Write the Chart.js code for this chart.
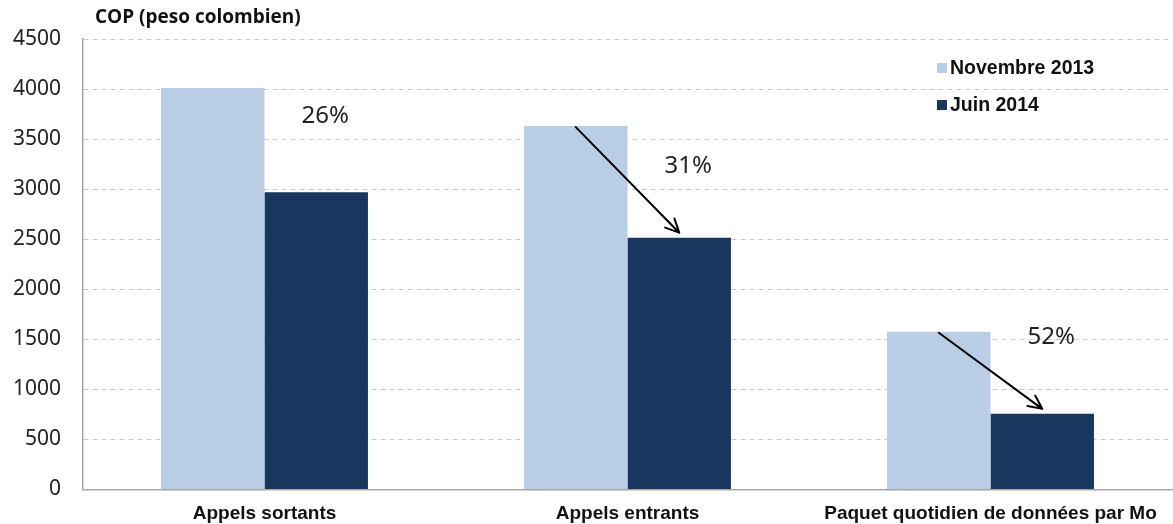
<!DOCTYPE html>
<html>
<head>
<meta charset="utf-8">
<script src="https://cdn.jsdelivr.net/npm/chart.js@4"></script>
<style>
  html, body { margin: 0; padding: 0; background: #fff; }
  #wrap { width: 1173px; height: 524px; }
</style>
</head>
<body>
<div id="wrap"><canvas id="chart"></canvas></div>
<script>
// values
const categories = ["Appels sortants", "Appels entrants", "Paquet quotidien de données par Mo"];
const nov2013 = [4010, 3630, 1575];
const juin2014 = [2970, 2515, 755];
const dropLabels = ["26%", "31%", "52%"];
const showArrow = [false, true, true];
const yTicks = [0, 500, 1000, 1500, 2000, 2500, 3000, 3500, 4000, 4500];

const LIGHT = "#b9cde5";
const DARK = "#17375e";

function arrow(ctx, x1, y1, x2, y2) {
  const a = Math.atan2(y2 - y1, x2 - x1);
  const h = 15;
  ctx.beginPath();
  ctx.moveTo(x1, y1);
  ctx.lineTo(x2, y2);
  ctx.moveTo(x2 - h * Math.cos(a - 0.45), y2 - h * Math.sin(a - 0.45));
  ctx.lineTo(x2, y2);
  ctx.lineTo(x2 - h * Math.cos(a + 0.45), y2 - h * Math.sin(a + 0.45));
  ctx.stroke();
}

const extras = {
  id: "extras",
  afterDatasetsDraw(chart) {
    const ctx = chart.ctx;
    const ca = chart.chartArea;
    const m0 = chart.getDatasetMeta(0).data;
    const m1 = chart.getDatasetMeta(1).data;
    const labelDy = [28, 40, 5];
    ctx.save();
    // arrows + percentages
    ctx.strokeStyle = "#000";
    ctx.lineWidth = 2;
    ctx.lineCap = "round";
    ctx.lineJoin = "round";
    for (let i = 0; i < categories.length; i++) {
      const a = m0[i], b = m1[i];
      if (showArrow[i]) arrow(ctx, a.x, a.y + 1, b.x, b.y - 5);
      ctx.fillStyle = "#222";
      ctx.font = "24px 'Noto Sans'";
      ctx.textAlign = "center";
      ctx.textBaseline = "middle";
      ctx.fillText(dropLabels[i], b.x + 9, a.y + labelDy[i]);
    }
    // title
    ctx.fillStyle = "#111";
    ctx.font = "bold 19px 'Open Sans'";
    ctx.textAlign = "left";
    ctx.textBaseline = "middle";
    ctx.fillText("COP (peso colombien)", ca.left + 12, 18);
    // legend
    const ds = chart.data.datasets;
    const lx = ca.right - 235;
    const ly = [68, 105];
    ctx.font = "bold 19.5px 'Liberation Sans'";
    ds.forEach((d, k) => {
      ctx.fillStyle = d.backgroundColor;
      ctx.fillRect(lx, ly[k] - 5, 10, 10);
      ctx.fillStyle = "#111";
      ctx.fillText(d.label, lx + 13, ly[k] + 1);
    });
    ctx.restore();
  }
};

new Chart(document.getElementById("chart"), {
  type: "bar",
  data: {
    labels: categories,
    datasets: [
      { label: "Novembre 2013", data: nov2013, backgroundColor: LIGHT },
      { label: "Juin 2014", data: juin2014, backgroundColor: DARK }
    ]
  },
  options: {
    responsive: true,
    maintainAspectRatio: false,
    animation: false,
    layout: { padding: { top: 39, right: 1, bottom: 0, left: 0 } },
    plugins: {
      legend: { display: false },
      tooltip: { enabled: false }
    },
    datasets: {
      bar: { categoryPercentage: 0.57, barPercentage: 1.0 }
    },
    scales: {
      x: {
        grid: { display: false },
        border: { display: true, color: "#a6a6a6", width: 1.5 },
        ticks: {
          color: "#111",
          padding: 5,
          maxRotation: 0,
          autoSkip: false,
          font: { family: "'Liberation Sans'", size: 19, weight: "bold" }
        },
        afterFit(scale) { scale.height = 34; }
      },
      y: {
        min: 0,
        max: 4500,
        afterBuildTicks(scale) { scale.ticks = yTicks.map(v => ({ value: v })); },
        grid: { color: "#c8c8c8", lineWidth: 1, drawTicks: false },
        border: { display: true, color: "#a6a6a6", width: 1.5, dash: [5, 4] },
        ticks: {
          color: "#222",
          padding: 22,
          font: { family: "'Noto Sans'", size: 21 },
          callback: v => String(v)
        },
        afterFit(scale) { scale.width = 83; }
      }
    }
  },
  plugins: [extras]
});
</script>
</body>
</html>
